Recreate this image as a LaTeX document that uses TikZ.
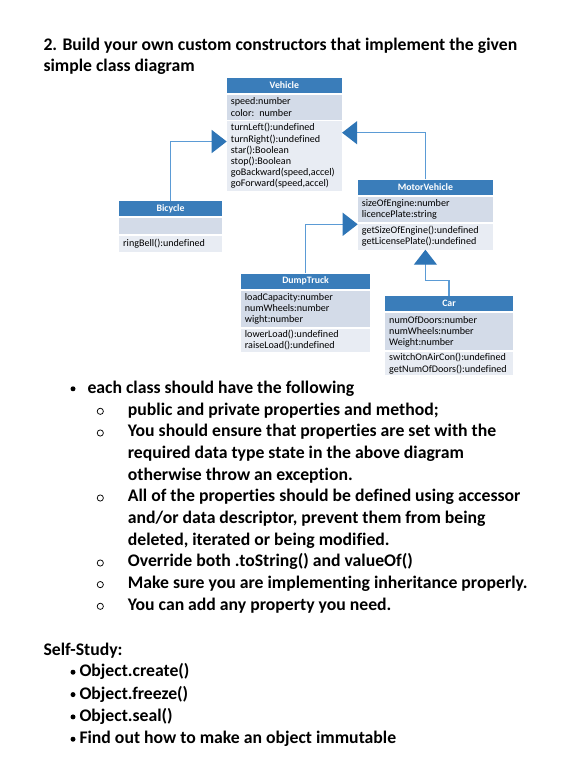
\documentclass[tikz,border=0pt]{standalone}
\usepackage{fontspec}
\setmainfont{Carlito}[Ligatures={NoCommon}]
\usetikzlibrary{arrows.meta,calc}
\definecolor{hdr}{HTML}{3A7DBA}
\definecolor{attrc}{HTML}{D3DBE8}
\definecolor{methc}{HTML}{E8ECF3}
\definecolor{conn}{HTML}{5B9BD5}
\definecolor{tri}{HTML}{2E75B6}
\newcommand{\diagfont}{\fontsize{10.1}{11.1}\selectfont}
\newcommand{\bodyfont}{\fontsize{17.7}{21.7}\selectfont\bfseries}
\begin{document}
\begin{tikzpicture}[x=1pt,y=-1pt,
  hdrbox/.style={fill=hdr, text=white, font=\fontsize{9.8}{10}\selectfont\bfseries,
    anchor=north west, inner sep=0pt, minimum height=15pt, minimum width=#1},
  clsec/.style n args={3}{fill=#3, anchor=north west, inner xsep=4pt, inner ysep=0pt,
    text width=#1, minimum height=#2, align=left, font=\diagfont},
  inh/.style={draw=conn, line width=1.25pt,
    -{Triangle[width=23pt,length=15pt,color=tri]}},
  txt/.style={anchor=base west, inner sep=0pt, font=\bodyfont},
  bul/.style={circle, fill=black, inner sep=0pt, minimum size=5pt},
  subbul/.style={circle, draw=black, line width=0.75pt, inner sep=0pt, minimum size=6.2pt}
]
\useasboundingbox (0,0) rectangle (578,772);
\fill[white] (0,0) rectangle (578,772);

% ---------- title ----------
\node[txt] (t1) at (43.3,50) {2. Build your own custom constructors that implement the given};
\node[txt] (t2) at (43.3,71.7) {simple class diagram};

% ---------- Vehicle ----------
\node[hdrbox=115pt] (vehH) at (226.7,77.3) {Vehicle};
\node[clsec={107pt}{25pt}{attrc}] (vehA) at (226.7,94.3) {speed:number\\color: number};
\node[clsec={107pt}{70pt}{methc}] (vehM) at (226.7,120.7)
  {turnLeft():undefined\\turnRight():undefined\\star():Boolean\\stop():Boolean\\goBackward(speed,accel)\\goForward(speed,accel)};

% ---------- Bicycle ----------
\node[hdrbox=102.7pt] (bicH) at (119,200.7) {Bicycle};
\node[clsec={94.7pt}{16.5pt}{attrc}] (bicA) at (119,217.5) {};
\node[clsec={94.7pt}{16.2pt}{methc}] (bicM) at (119,235.5) {ringBell():undefined};

% ---------- MotorVehicle ----------
\node[hdrbox=135pt] (mvH) at (357.7,179.3) {MotorVehicle};
\node[clsec={127pt}{24.7pt}{attrc}] (mvA) at (357.7,197) {sizeOfEngine:number\\licencePlate:string};
\node[clsec={127pt}{26pt}{methc}] (mvM) at (357.7,223.3) {getSizeOfEngine():undefined\\getLicensePlate():undefined};

% ---------- DumpTruck ----------
\node[hdrbox=129.3pt] (dtH) at (240.7,273.3) {DumpTruck};
\node[clsec={121.3pt}{36pt}{attrc}] (dtA) at (240.7,290.7) {loadCapacity:number\\numWheels:number\\wight:number};
\node[clsec={121.3pt}{23.4pt}{methc}] (dtM) at (240.7,328.3) {lowerLoad():undefined\\raiseLoad():undefined};

% ---------- Car ----------
\node[hdrbox=127.7pt] (carH) at (385,295.7) {Car};
\node[clsec={119.7pt}{37pt}{attrc}] (carA) at (385,313) {numOfDoors:number\\numWheels:number\\Weight:number};
\node[clsec={119.7pt}{23.5pt}{methc}] (carM) at (385,351.7) {switchOnAirCon():undefined\\getNumOfDoors():undefined};

% ---------- inheritance connectors ----------
\draw[inh] (bicH.north) |- ($(vehM.north west)+(0,20.8)$);
\draw[inh] (mvH.north) |- ($(vehM.north east)+(0,12)$);
\draw[inh] (dtH.north) |- ($(mvM.north west)+(0,1)$);
\draw[inh] (carH.north) |- ($(mvM.south)+(0,30.7)$) -- (mvM.south);

% ---------- requirements ----------
\node[bul] (b0) at (73,388.8) {};
\node[txt] (l0) at (87.3,393.3) {each class should have the following};

\node[subbul] (s1) at (100.3,411.3) {};
\node[txt] (l1) at (127.7,415) {public and private properties and method;};
\node[subbul] (s2) at (100.3,433) {};
\node[txt] (l2) at (127.7,436.7) {You should ensure that properties are set with the};
\node[txt] (l3) at (127.7,458.3) {required data type state in the above diagram};
\node[txt] (l4) at (127.7,480) {otherwise throw an exception.};
\node[subbul] (s3) at (100.3,498) {};
\node[txt] (l5) at (127.7,501.7) {All of the properties should be defined using accessor};
\node[txt] (l6) at (127.7,523.3) {and/or data descriptor, prevent them from being};
\node[txt] (l7) at (127.7,545) {deleted, iterated or being modified.};
\node[subbul] (s4) at (100.3,563) {};
\node[txt] (l8) at (127.7,566.7) {Override both .toString() and valueOf()};
\node[subbul] (s5) at (100.3,584.6) {};
\node[txt] (l9) at (127.7,588.3) {Make sure you are implementing inheritance properly.};
\node[subbul] (s6) at (100.3,606.3) {};
\node[txt] (l10) at (127.7,610) {You can add any property you need.};

% ---------- self-study ----------
\node[txt] (ss) at (43.3,655) {Self-Study:};
\node[bul] (c1) at (73,672.2) {};
\node[txt] (o1) at (79.3,676.7) {Object.create()};
\node[bul] (c2) at (73,694.6) {};
\node[txt] (o2) at (79.3,699.1) {Object.freeze()};
\node[bul] (c3) at (73,716.9) {};
\node[txt] (o3) at (79.3,721.4) {Object.seal()};
\node[bul] (c4) at (73,739.2) {};
\node[txt] (o4) at (79.3,743.7) {Find out how to make an object immutable};
\end{tikzpicture}
\end{document}
